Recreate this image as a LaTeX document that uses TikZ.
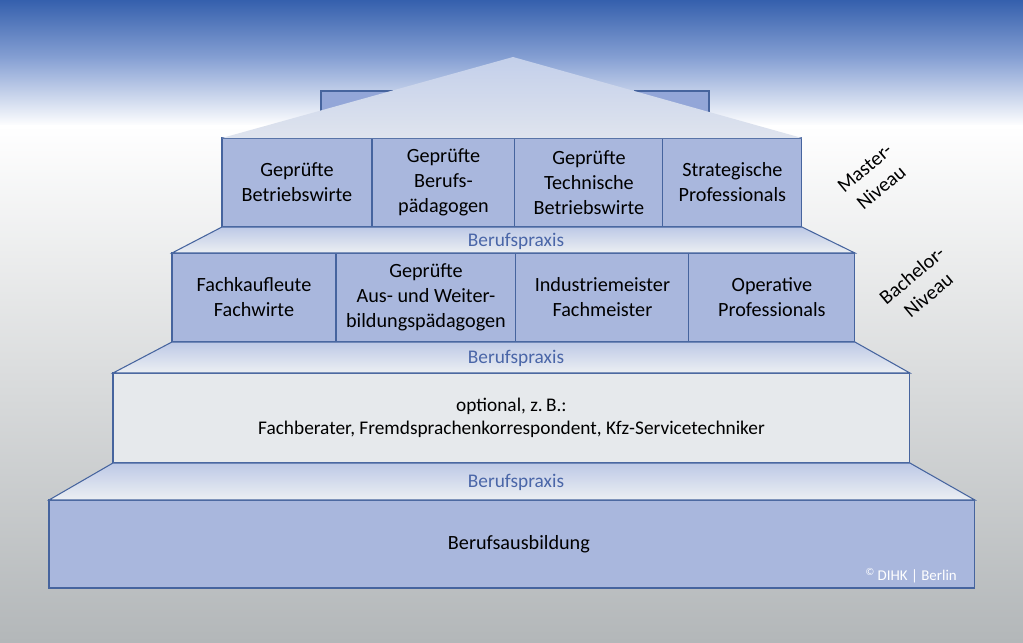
\documentclass[tikz,border=0pt]{standalone}
\usepackage{fontspec}
\setmainfont{Carlito}
\usetikzlibrary{positioning}
\definecolor{boxblue}{HTML}{A9B7DD}
\definecolor{roofblue}{HTML}{93A6D8}
\definecolor{linblue}{HTML}{46649E}
\definecolor{txtblue}{HTML}{4A66A8}
\definecolor{skyblue}{HTML}{3560AD}
\definecolor{hazeblue}{HTML}{8AA3D5}
\definecolor{floorgrey}{HTML}{B3B7B9}
\definecolor{stepgrey}{HTML}{ECEFF3}
\definecolor{stepblue}{HTML}{BDC9E6}
\definecolor{optgrey}{HTML}{E6E9EC}
\definecolor{rooftop}{HTML}{C3CFEA}
\definecolor{roofbot}{HTML}{DFE4EE}

\begin{document}
\begin{tikzpicture}[x=0.02cm,y=-0.02cm,
  box/.style={draw=linblue,line width=0.6pt,fill=boxblue,rectangle,inner sep=0pt,
    outer sep=0pt,minimum height=1.78cm,align=center,
    font=\fontsize{11.5}{14.2}\selectfont},
  band/.style={draw=linblue,line width=0.6pt,top color=stepblue,bottom color=stepgrey},
  praxis/.style={text=txtblue,font=\fontsize{11}{13}\selectfont},
  niveau/.style={rotate=40,align=center,font=\fontsize{11.5}{14.5}\selectfont}]
\useasboundingbox (0,0) rectangle (1023,642);
% background
\shade[top color=skyblue,bottom color=hazeblue] (0,0) rectangle (1023,61);
\shade[top color=hazeblue,bottom color=white] (0,60) rectangle (1023,126);
\shade[top color=white,bottom color=floorgrey] (0,125) rectangle (1023,642);
% roof
\draw[fill=roofblue,draw=linblue,line width=0.6pt] (321,91) rectangle (392,125);
\draw[fill=roofblue,draw=linblue,line width=0.6pt] (635,91) rectangle (709,125);
\coordinate (apex) at (513,57);
% master
\node[box,minimum width=3cm,anchor=north west] at (222,138) (m1) {Geprüfte\\Betriebswirte};
\node[box,minimum width=2.86cm,right=0pt of m1] (m2) {Geprüfte\\Berufs-\\pädagogen};
\node[box,minimum width=2.96cm,right=0pt of m2] (m3) {Geprüfte\\Technische\\Betriebswirte};
\node[box,minimum width=2.78cm,right=0pt of m3] (m4) {Strategische\\Professionals};
\shade[top color=rooftop,bottom color=roofbot] (m1.north west) -- (apex) -- (m4.north east) -- cycle;
% bachelor
\node[box,minimum width=3.28cm,anchor=north west] at (172,253) (b1) {Fachkaufleute\\Fachwirte};
\node[box,minimum width=3.6cm,right=0pt of b1] (b2) {Geprüfte\\Aus- und Weiter-\\bildungspädagogen};
\node[box,minimum width=3.46cm,right=0pt of b2] (b3) {Industriemeister\\Fachmeister};
\node[box,minimum width=3.32cm,right=0pt of b3] (b4) {Operative\\Professionals};
% optional + ausbildung
\node[box,fill=optgrey,minimum width=15.94cm,minimum height=1.8cm,anchor=north west,
  font=\fontsize{11}{13.4}\selectfont] at (113,373) (o)
  {optional, z.\,B.:\\Fachberater, Fremdsprachenkorrespondent, Kfz-Servicetechniker};
\node[box,minimum width=18.52cm,minimum height=1.76cm,anchor=north west] at (49,500) (a) {\hspace*{8pt}Berufsausbildung};
\draw[linblue,line width=1.2pt] (a.south west) -- (a.south east);
% steps
\shade[band] (m1.south west) -- (b1.north west) -- (b4.north east) -- (m4.south east) -- cycle;
\shade[band] (b1.south west) -- (o.north west) -- (o.north east) -- (b4.south east) -- cycle;
\shade[band] (o.south west) -- (a.north west) -- (a.north east) -- (o.south east) -- cycle;
\node[praxis] at (516,241) (p1) {Berufspraxis};
\node[praxis] at (516,358) (p2) {Berufspraxis};
\node[praxis] at (516,482) (p3) {Berufspraxis};
\node[text=white,font=\fontsize{8.5}{10}\selectfont,anchor=base east] at (963,580) (copy)
  {\textsuperscript{©}\,DIHK | Berlin};
% niveaus
\node[niveau] at (873,178) (master) {Master-\\Niveau};
\node[niveau] at (920,285) (bachelor) {Bachelor-\\Niveau};
\end{tikzpicture}
\end{document}
